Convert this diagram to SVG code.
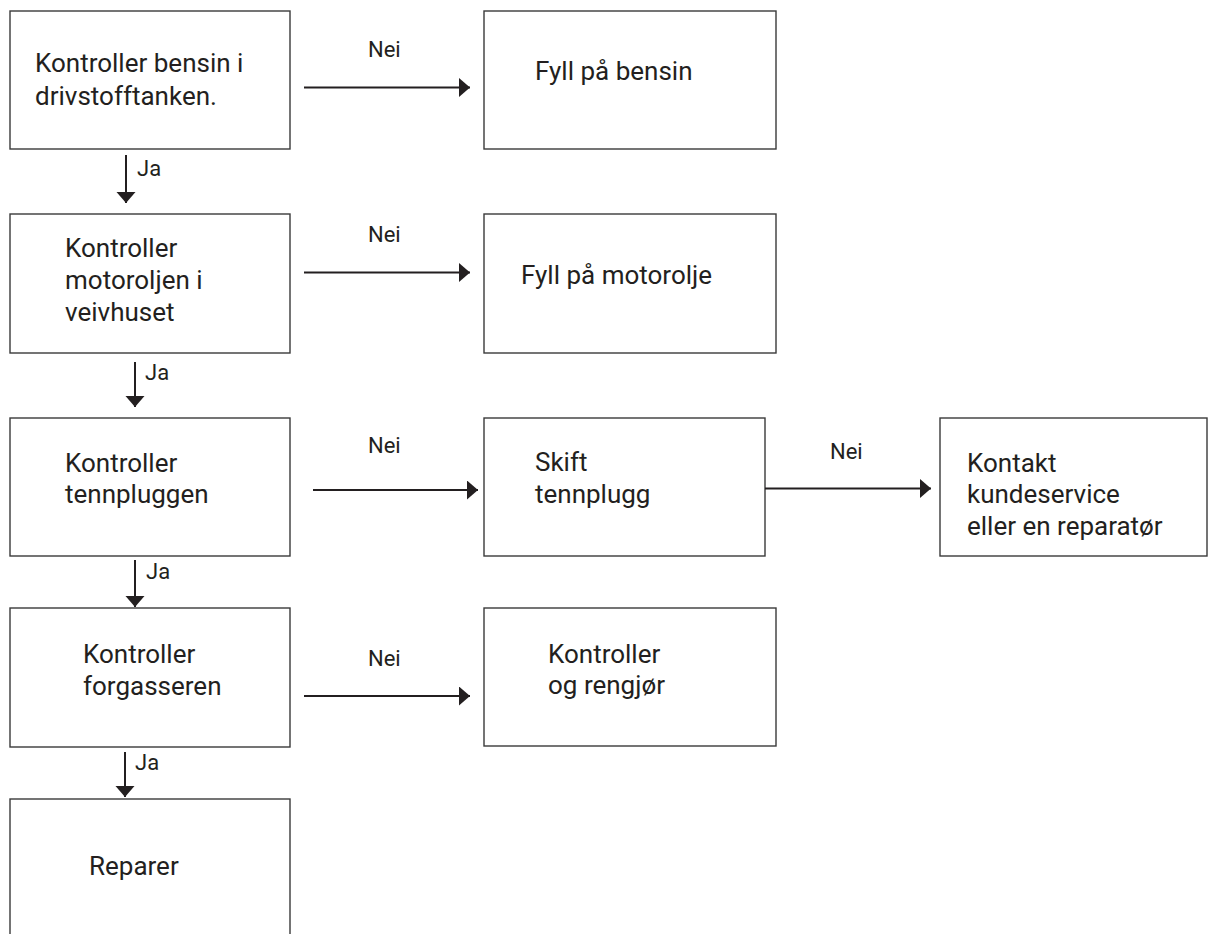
<svg xmlns="http://www.w3.org/2000/svg" width="1213" height="934" viewBox="0 0 1213 934">
<style>
.box{fill:#fff;stroke:#3a3a3a;stroke-width:1.4}
.t{font-family:Roboto,"Liberation Sans",sans-serif;font-size:26px;fill:#231f20}
.lbl{font-family:Roboto,"Liberation Sans",sans-serif;font-size:22px;fill:#231f20}
.c{stroke:#231f20;stroke-width:2;fill:none;marker-end:url(#ah)}
</style>
<defs>
<marker id="ah" markerUnits="userSpaceOnUse" markerWidth="12" markerHeight="20" refX="11" refY="9.5" orient="auto">
<path d="M0,0 L11,9.5 L0,19 z" fill="#231f20"/>
</marker>
</defs>
<rect width="1213" height="934" fill="#fff"/>
<g id="n1"><rect class="box" x="10" y="11" width="280" height="138"/>
<text class="t" x="35" y="72">Kontroller bensin i</text><text class="t" x="35" y="105">drivstofftanken.</text></g>
<g id="n2"><rect class="box" x="484" y="11" width="292" height="138"/>
<text class="t" x="535" y="80">Fyll på bensin</text></g>
<g id="n3"><rect class="box" x="10" y="214" width="280" height="139"/>
<text class="t" x="65" y="257">Kontroller</text><text class="t" x="65" y="289">motoroljen i</text><text class="t" x="65" y="321">veivhuset</text></g>
<g id="n4"><rect class="box" x="484" y="214" width="292" height="139"/>
<text class="t" x="521" y="284">Fyll på motorolje</text></g>
<g id="n5"><rect class="box" x="10" y="418" width="280" height="138"/>
<text class="t" x="65" y="472">Kontroller</text><text class="t" x="65" y="503">tennpluggen</text></g>
<g id="n6"><rect class="box" x="484" y="418" width="281" height="138"/>
<text class="t" x="535" y="471">Skift</text><text class="t" x="535" y="503">tennplugg</text></g>
<g id="n7"><rect class="box" x="940" y="418" width="267" height="138"/>
<text class="t" x="967" y="472">Kontakt</text><text class="t" x="967" y="503">kundeservice</text><text class="t" x="967" y="535">eller en reparatør</text></g>
<g id="n8"><rect class="box" x="10" y="608" width="280" height="139"/>
<text class="t" x="83" y="663">Kontroller</text><text class="t" x="83" y="695">forgasseren</text></g>
<g id="n9"><rect class="box" x="484" y="608" width="292" height="138"/>
<text class="t" x="548" y="663">Kontroller</text><text class="t" x="548" y="694">og rengjør</text></g>
<g id="n10"><rect class="box" x="10" y="799" width="280" height="145"/>
<text class="t" x="89" y="875">Reparer</text></g>
<g id="connectors">
<line class="c" x1="304" y1="87.5" x2="470" y2="87.5"/>
<line class="c" x1="304" y1="272.5" x2="470" y2="272.5"/>
<line class="c" x1="313" y1="490" x2="478" y2="490"/>
<line class="c" x1="765" y1="488.5" x2="931" y2="488.5"/>
<line class="c" x1="304" y1="696" x2="470" y2="696"/>
<line class="c" x1="126" y1="155" x2="126" y2="203"/>
<line class="c" x1="135" y1="362" x2="135" y2="407"/>
<line class="c" x1="135" y1="560" x2="135" y2="607"/>
<line class="c" x1="125" y1="752" x2="125" y2="797"/>
<text class="lbl" x="368" y="57">Nei</text>
<text class="lbl" x="368" y="242">Nei</text>
<text class="lbl" x="368" y="453">Nei</text>
<text class="lbl" x="830" y="459">Nei</text>
<text class="lbl" x="368" y="666">Nei</text>
<text class="lbl" x="137" y="176">Ja</text>
<text class="lbl" x="145" y="380">Ja</text>
<text class="lbl" x="146" y="579">Ja</text>
<text class="lbl" x="135" y="770">Ja</text>
</g>
</svg>
